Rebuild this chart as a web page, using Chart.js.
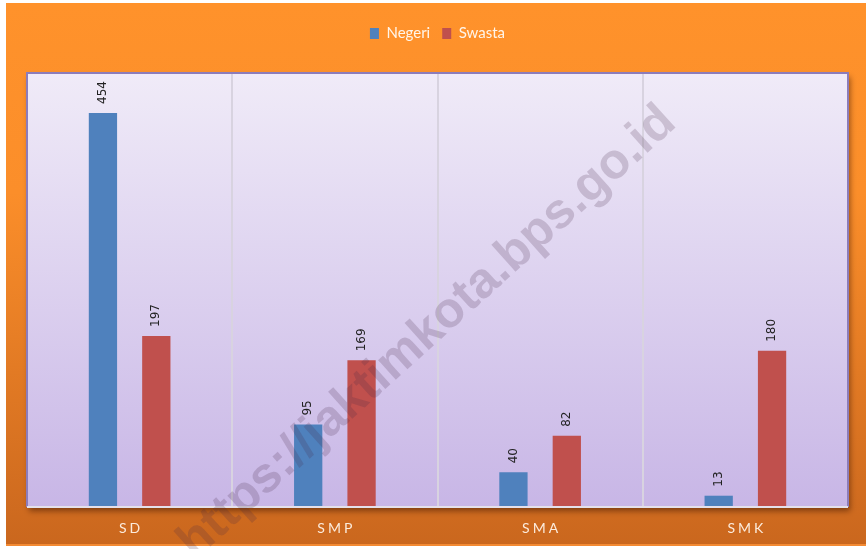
<!DOCTYPE html>
<html>
<head>
<meta charset="utf-8">
<script src="https://cdn.jsdelivr.net/npm/chart.js@4.4.1/dist/chart.umd.min.js"></script>
<style>
  html, body { margin: 0; padding: 0; background: #fff; }
  #wrap { width: 866px; height: 549px; }
</style>
</head>
<body>
<div id="wrap"><canvas id="chart" width="866" height="549"></canvas></div>
<script>
// data
const categories = ['SD', 'SMP', 'SMA', 'SMK'];
const negeri = [454, 95, 40, 13];
const swasta = [197, 169, 82, 180];
const yMax = 500;
const watermark = 'https://jaktimkota.bps.go.id';

/* backgrounds: orange frame + purple plot area with shadow */
const backdrop = {
  id: 'backdrop',
  afterInit(chart) {
    // leave a gap between the legend and the plot area
    const lg = chart.legend;
    const fit = lg.fit;
    lg.fit = function () { fit.call(this); this.height += 22; };
  },
  beforeDraw(chart) {
    const { ctx, chartArea: a } = chart;
    ctx.save();
    ctx.fillStyle = '#fff';
    ctx.fillRect(0, 0, 866, 549);
    const og = ctx.createLinearGradient(0, 3, 0, 545);
    og.addColorStop(0, '#ff922b');
    og.addColorStop(0.35, '#fb8e2a');
    og.addColorStop(1, '#ca671e');
    ctx.fillStyle = og;
    ctx.fillRect(6, 3, 860, 542);
    ctx.fillStyle = '#f38a33';
    ctx.fillRect(6, 544, 860, 2);

    // plot area with drop shadow
    ctx.shadowColor = 'rgba(60,20,0,0.55)';
    ctx.shadowBlur = 6;
    ctx.shadowOffsetX = 2;
    ctx.shadowOffsetY = 4;
    const pg = ctx.createLinearGradient(0, a.top, 0, a.bottom);
    pg.addColorStop(0, '#f0ebf8');
    pg.addColorStop(1, '#c8b6e6');
    ctx.fillStyle = pg;
    ctx.fillRect(a.left, a.top, a.right - a.left, a.bottom - a.top);
    ctx.restore();
  },
  afterDatasetsDraw(chart) {
    const { ctx, chartArea: a } = chart;
    ctx.save();
    // borders
    ctx.strokeStyle = '#8c7cba';
    ctx.lineWidth = 2;
    ctx.beginPath();
    ctx.moveTo(a.left, a.bottom);
    ctx.lineTo(a.left, a.top);
    ctx.lineTo(a.right, a.top);
    ctx.lineTo(a.right, a.bottom);
    ctx.stroke();
    ctx.strokeStyle = '#e4e0ea';
    ctx.beginPath();
    ctx.moveTo(a.left, a.bottom);
    ctx.lineTo(a.right, a.bottom);
    ctx.stroke();

    // value labels, rotated
    ctx.fillStyle = '#222';
    ctx.font = '12px "DejaVu Sans"';
    ctx.textAlign = 'left';
    ctx.textBaseline = 'middle';
    chart.data.datasets.forEach((ds, i) => {
      chart.getDatasetMeta(i).data.forEach((bar, j) => {
        ctx.save();
        ctx.translate(bar.x, bar.y - 9);
        ctx.rotate(-Math.PI / 2);
        ctx.fillText(String(ds.data[j]), 0, 0);
        ctx.restore();
      });
    });

    // category labels, spaced out
    const xs = chart.scales.x;
    ctx.fillStyle = '#fcebdc';
    ctx.font = '14px Lato';
    ctx.letterSpacing = '3px';
    ctx.textAlign = 'center';
    categories.forEach((c, i) => {
      ctx.fillText(c, xs.getPixelForTick(i) + 1.5, 528);
    });
    ctx.restore();
  },
  afterDraw(chart) {
    const { ctx } = chart;
    ctx.save();
    ctx.translate(666, 112);
    ctx.rotate(-42 * Math.PI / 180);
    ctx.font = 'bold 50px "Liberation Sans"';
    ctx.textAlign = 'right';
    ctx.textBaseline = 'alphabetic';
    ctx.fillStyle = 'rgba(70,40,70,0.2)';
    ctx.fillText(watermark, 0, 18);
    ctx.restore();
  }
};

new Chart(document.getElementById('chart'), {
  type: 'bar',
  data: {
    labels: categories,
    datasets: [
      { label: 'Negeri', data: negeri, backgroundColor: '#4f81bd' },
      { label: 'Swasta', data: swasta, backgroundColor: '#c0504d' }
    ]
  },
  options: {
    responsive: false,
    animation: false,
    layout: { padding: { top: 14, left: 27, right: 18, bottom: 42 } },
    datasets: { bar: { categoryPercentage: 0.52, barPercentage: 0.53 } },
    plugins: {
      legend: {
        position: 'top',
        labels: {
          color: '#fff5ea',
          font: { family: 'Lato', size: 15 },
          boxWidth: 9,
          boxHeight: 11,
          padding: 12
        }
      },
      tooltip: { enabled: false }
    },
    scales: {
      x: {
        grid: { color: '#d8d3e0', lineWidth: 2, drawTicks: false, offset: true },
        border: { display: false },
        ticks: { display: false }
      },
      y: {
        display: false,
        min: 0,
        max: yMax
      }
    }
  },
  plugins: [backdrop]
});
</script>
</body>
</html>
